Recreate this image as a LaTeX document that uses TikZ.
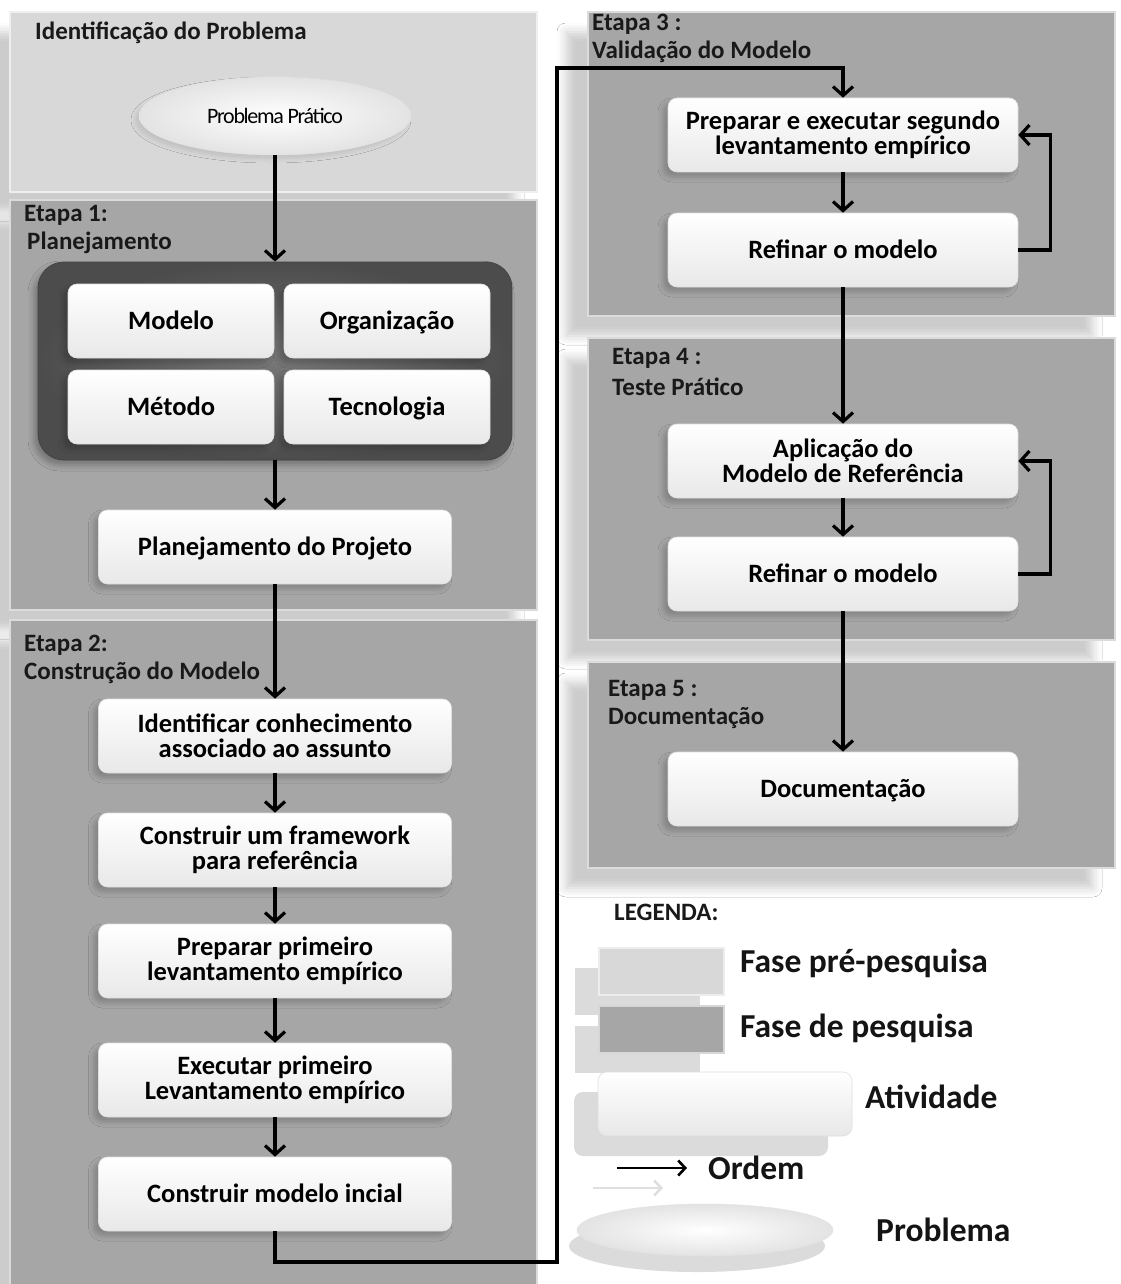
\documentclass[tikz,border=0pt]{standalone}
\usepackage{fontspec}
\setmainfont{Carlito}
\newfontfamily\tightfont{Carlito}[LetterSpace=-6]
\usetikzlibrary{arrows.meta,shapes.geometric,shadows.blur}

\definecolor{prefase}{HTML}{D8D8D8}
\definecolor{fase}{HTML}{A6A6A6}
\definecolor{grupo}{HTML}{5F5F5F}

\newcommand\headfont{\fontsize{25}{28}\selectfont\bfseries}
\newcommand\boxfont{\fontsize{26.5}{25.5}\selectfont\bfseries}
\newcommand\legfont{\fontsize{33.5}{34}\selectfont\bfseries}

\tikzset{
  panel/.style={fill=#1, draw=#1!40!white, line width=2pt,
    blur shadow={shadow xshift=-22pt, shadow yshift=-20pt,
                 shadow opacity=20, shadow blur radius=9pt}},
  heading/.style={anchor=west, inner sep=0pt, font=\headfont, text=black!90},
  boxlook/.style={rounded corners=9pt, top color=white, bottom color=gray!18,
    draw=gray!25, line width=0.6pt, minimum width=353pt, minimum height=74pt,
    align=center, font=\boxfont, inner sep=0pt},
  activity/.style={boxlook,
    blur shadow={shadow xshift=-5pt, shadow yshift=-5pt,
                 shadow opacity=20, shadow blur radius=5pt}},
  oneline/.style={text height=20pt, text depth=4pt},
  small/.style={activity, oneline, minimum width=206pt, minimum height=74pt},
  grouping/.style={rounded corners=26pt, inner color=grupo!85!white, outer color=grupo!80!black,
    draw=grupo!70!black, line width=0.8pt, minimum width=474pt, minimum height=198pt,
    blur shadow={shadow xshift=-4pt, shadow yshift=-5pt,
                 shadow opacity=30, shadow blur radius=6pt}},
  ovallook/.style={ellipse, inner color=white, outer color=gray!22, draw=gray!22,
    line width=0.5pt, minimum width=272pt, minimum height=78pt, inner sep=0pt},
  problem/.style={ovallook,
    blur shadow={shadow xshift=-4pt, shadow yshift=-4pt,
                 shadow opacity=10, shadow blur radius=4pt}},
  % flat offset shadow used by the legend keys
  keyshadow/.style={preaction={fill=gray!28,
                 transform canvas={shift={(#1)}}}},
  keyshadow/.default={-24pt,-20pt},
  legbox/.style={minimum width=125pt, minimum height=47pt, inner sep=0pt,
    draw=#1!45!white, line width=2pt, fill=#1, keyshadow},
  legtext/.style={anchor=west, inner sep=0pt, font=\legfont, text=black!92},
  flow/.style={line width=3.2pt, draw=black,
    -{Straight Barb[length=9pt, width=20pt, line width=3.2pt]}},
  keyarrow/.style={line width=2.6pt,
    -{Straight Barb[length=7pt, width=15pt, line width=2.6pt]}},
}

\begin{document}
\begin{tikzpicture}[x=1pt, y=-1pt]
  \useasboundingbox (0,0) rectangle (1120,1284);
  \fill[white] (0,0) rectangle (1120,1284);

  % phase panels, left column
  \path[panel=prefase] (10,12) rectangle (537,192);
  \path[panel=fase] (10,200) rectangle (537,610);
  \path[panel=fase] (10,620) rectangle (537,1290);
  % phase panels, right column
  \path[panel=fase] (588,12) rectangle (1115,316);
  \path[panel=fase] (588,338) rectangle (1115,640);
  \path[panel=fase] (588,662) rectangle (1115,868);

  % headings
  \node[heading] (h0) at (35,33) {Identificação do Problema};
  \node[heading] (h1) at (24,215) {Etapa 1:};
  \node[heading] (h1b) at (27,243) {Planejamento};
  \node[heading] (h2) at (24,645) {Etapa 2:};
  \node[heading] (h2b) at (24,673) {Construção do Modelo};
  \node[heading] (h3) at (592,24) {Etapa 3 :};
  \node[heading] (h3b) at (592,52) {Validação do Modelo};
  \node[heading] (h4) at (612,358) {Etapa 4 :};
  \node[heading] (h4b) at (612,387) {Teste Prático};
  \node[heading] (h5) at (608,690) {Etapa 5 :};
  \node[heading] (h5b) at (608,718) {Documentação};

  % problem identification
  \node[problem] (prob) at (275,116) {\tightfont\fontsize{22}{24}\selectfont Problema Prático};

  % stage 1
  \node[grouping] (grp) at (275,361) {};
  \node[small] (mod) at (171,321) {Modelo};
  \node[small] (org) at (387,321) {Organização};
  \node[small] (met) at (171,407) {Método};
  \node[small] (tec) at (387,407) {Tecnologia};
  \node[activity, oneline] (proj) at (275,547) {Planejamento do Projeto};

  % stage 2
  \node[activity] (ident) at (275,736) {Identificar conhecimento\\associado ao assunto};
  \node[activity] (frame) at (275,850) {Construir um framework\\para referência};
  \node[activity] (prep) at (275,961) {Preparar primeiro\\levantamento empírico};
  \node[activity] (exec) at (275,1080) {Executar primeiro\\Levantamento empírico};
  \node[activity, oneline] (cmi) at (275,1194) {Construir modelo incial};

  % stage 3
  \node[activity, minimum width=350pt] (seg) at (843,135) {Preparar e executar segundo\\levantamento empírico};
  \node[activity, oneline, minimum width=350pt] (ref3) at (843,250) {Refinar o modelo};
  % stage 4
  \node[activity, minimum width=350pt] (apl) at (843,461) {Aplicação do\\Modelo de Referência};
  \node[activity, oneline, minimum width=350pt] (ref4) at (843,574) {Refinar o modelo};
  % stage 5
  \node[activity, oneline, minimum width=350pt] (doc) at (843,789) {Documentação};

  % connectors
  \draw[flow] (prob.south) -- (grp.north);
  \draw[flow] (grp.south) -- (proj.north);
  \draw[flow] (proj.south) -- (ident.north);
  \draw[flow] (ident.south) -- (frame.north);
  \draw[flow] (frame.south) -- (prep.north);
  \draw[flow] (prep.south) -- (exec.north);
  \draw[flow] (exec.south) -- (cmi.north);

  \coordinate (down) at (557,1262);
  \coordinate (up) at (557,68);
  \draw[flow] (cmi.south) |- (down) -- (up) -| (seg.north);

  \draw[flow] (seg.south) -- (ref3.north);
  \draw[flow] (ref3.east) -- ++(32,0) |- (seg.east);
  \draw[flow] (ref3.south) -- (apl.north);
  \draw[flow] (apl.south) -- (ref4.north);
  \draw[flow] (ref4.east) -- ++(32,0) |- (apl.east);
  \draw[flow] (ref4.south) -- (doc.north);

  % legend
  \node[heading] (leg) at (614,912) {LEGENDA:};
  \node[legbox=prefase] (lpre) at (661,971) {};
  \node[legtext] (tpre) at (740,963) {Fase pré-pesquisa};
  \node[legbox=fase] (lfase) at (661,1029) {};
  \node[legtext] (tfase) at (740,1028) {Fase de pesquisa};
  \node[boxlook, keyshadow, minimum width=254pt, minimum height=64pt] (lact) at (725,1104) {};
  \node[legtext] (tact) at (865,1097) {Atividade};
  \coordinate (oa) at (593,1188);
  \coordinate (ob) at (663,1188);
  \draw[keyarrow, draw=gray!25] (oa) -- (ob);
  \coordinate (o1) at (617,1168);
  \coordinate (o2) at (687,1168);
  \draw[keyarrow, draw=black] (o1) -- (o2);
  \node[legtext] (tord) at (708,1168) {Ordem};
  \node[ovallook, minimum width=256pt, minimum height=52pt,
        keyshadow={-8pt,-16pt}] (lprob) at (705,1230) {};
  \node[legtext] (tprob) at (876,1230) {Problema};
\end{tikzpicture}
\end{document}
